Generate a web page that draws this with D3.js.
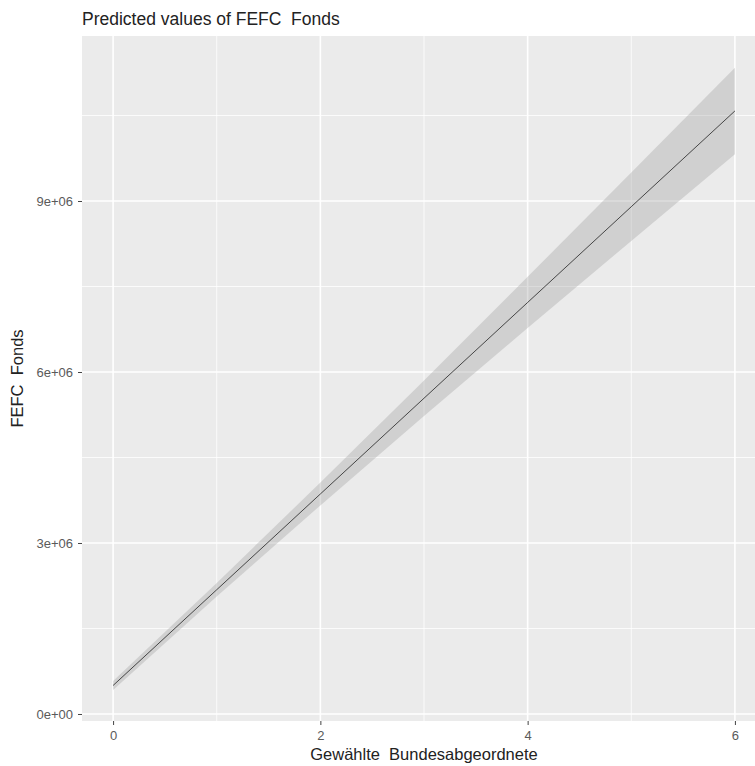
<!DOCTYPE html>
<html>
<head>
<meta charset="utf-8">
<script src="https://cdn.jsdelivr.net/npm/d3@7"></script>
<style>
  body { margin: 0; background: #fff; }
  text { font-family: "Liberation Sans", Arial, sans-serif; white-space: pre; }
</style>
</head>
<body>
<script>
// values
var xValues = [0, 1, 2, 3, 4, 5, 6];
var predicted = [0.50e6, 2.18e6, 3.86e6, 5.54e6, 7.22e6, 8.90e6, 10.58e6];
var confLow = [0.42e6, 2.06e6, 3.66e6, 5.23e6, 6.77e6, 8.30e6, 9.82e6];
var confHigh = [0.58e6, 2.30e6, 4.06e6, 5.85e6, 7.67e6, 9.50e6, 11.34e6];
var xTicks = [0, 2, 4, 6];
var xMinor = [1, 3, 5];
var yTicks = [0, 3e6, 6e6, 9e6];
var yTickLabels = ["0e+00", "3e+06", "6e+06", "9e+06"];
var yMinor = [1.5e6, 4.5e6, 7.5e6, 10.5e6];

var data = xValues.map(function(d, i) {
  return {x: d, y: predicted[i], lo: confLow[i], hi: confHigh[i]};
});

var svg_width = 755, svg_height = 766;
var svg = d3.select("body").append("svg").attr("width", svg_width).attr("height", svg_height);

var panel = {left: 82, top: 36, right: 766, bottom: 721};

var x = d3.scaleLinear().domain([-0.3, 6.3]).range([panel.left, panel.right]);
var y = d3.scaleLinear().domain([-0.123e6, 11.895e6]).range([panel.bottom, panel.top]);

// panel background
svg.append("rect")
    .attr("x", panel.left).attr("y", panel.top)
    .attr("width", panel.right - panel.left).attr("height", panel.bottom - panel.top)
    .attr("fill", "#EBEBEB");

// grid lines
var grid = svg.append("g");
grid.selectAll(".xminor").data(xMinor).enter().append("line")
    .attr("x1", x).attr("x2", x).attr("y1", panel.top).attr("y2", panel.bottom)
    .attr("stroke", "#fff").attr("stroke-width", 0.8);
grid.selectAll(".yminor").data(yMinor).enter().append("line")
    .attr("y1", y).attr("y2", y).attr("x1", panel.left).attr("x2", panel.right)
    .attr("stroke", "#fff").attr("stroke-width", 0.8);
grid.selectAll(".xmajor").data(xTicks).enter().append("line")
    .attr("x1", x).attr("x2", x).attr("y1", panel.top).attr("y2", panel.bottom)
    .attr("stroke", "#fff").attr("stroke-width", 1.6);
grid.selectAll(".ymajor").data(yTicks).enter().append("line")
    .attr("y1", y).attr("y2", y).attr("x1", panel.left).attr("x2", panel.right)
    .attr("stroke", "#fff").attr("stroke-width", 1.6);

// confidence band
var area = d3.area()
    .x(function(d) { return x(d.x); })
    .y0(function(d) { return y(d.lo); })
    .y1(function(d) { return y(d.hi); });

svg.append("path")
    .datum(data)
    .attr("d", area)
    .attr("fill", "#999999")
    .attr("fill-opacity", 0.32);

var line = d3.line()
    .x(function(d) { return x(d.x); })
    .y(function(d) { return y(d.y); });

svg.append("path")
    .datum(data)
    .attr("d", line)
    .attr("fill", "none")
    .attr("stroke", "#222")
    .attr("stroke-width", 0.8);

// axes
var xAxis = svg.append("g")
    .attr("transform", "translate(0," + panel.bottom + ")")
    .call(d3.axisBottom(x).tickValues(xTicks).tickSize(4).tickPadding(6).tickFormat(d3.format("d")));
var yAxis = svg.append("g")
    .attr("transform", "translate(" + panel.left + ",0)")
    .call(d3.axisLeft(y).tickValues(yTicks).tickSize(4).tickPadding(5)
      .tickFormat(function(d, i) { return yTickLabels[i]; }));

[xAxis, yAxis].forEach(function(a) {
  a.select(".domain").remove();
  a.selectAll(".tick line").attr("stroke", "#444").attr("stroke-width", 1);
  a.selectAll(".tick text")
      .attr("fill", "#5a5a5a")
      .style("font-size", "13px")
      .style("font-family", "'Liberation Sans', Arial, sans-serif");
});

// titles
svg.append("text")
    .attr("x", panel.left)
    .attr("y", 25)
    .attr("fill", "#222")
    .style("font-size", "17.5px")
    .text("Predicted values of FEFC  Fonds");

svg.append("text")
    .attr("x", (panel.left + panel.right) / 2)
    .attr("y", 760)
    .attr("text-anchor", "middle")
    .attr("fill", "#222")
    .style("font-size", "16.5px")
    .text("Gewählte  Bundesabgeordnete");

svg.append("text")
    .attr("transform", "translate(23," + (panel.top + panel.bottom) / 2 + ") rotate(-90)")
    .attr("text-anchor", "middle")
    .attr("fill", "#222")
    .style("font-size", "16.5px")
    .text("FEFC  Fonds");
</script>
</body>
</html>
